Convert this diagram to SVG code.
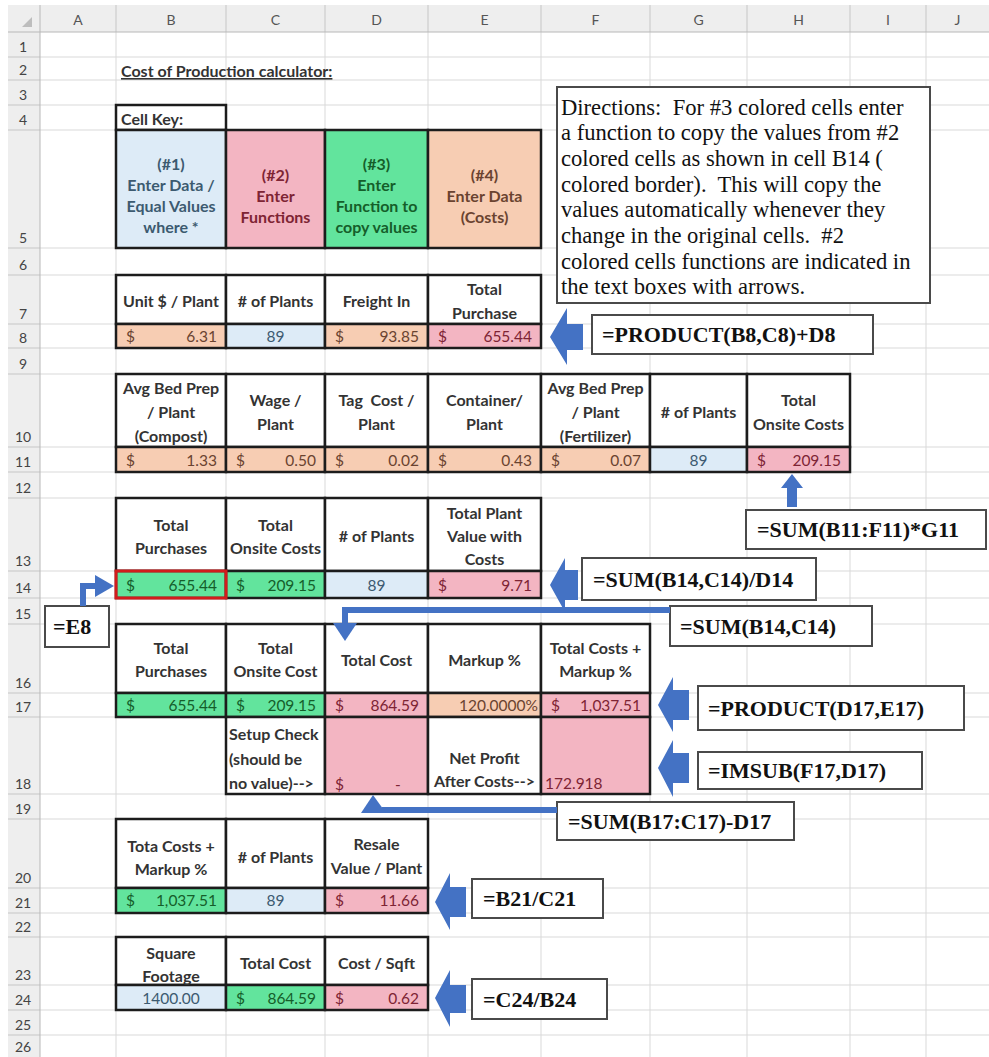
<svg xmlns="http://www.w3.org/2000/svg" width="989" height="1057" viewBox="0 0 989 1057">
<defs><style>
.hb{fill:#eeeeee}
.gl{stroke:#d9d9d9;stroke-width:1}
.hs{stroke:#c6c6c6;stroke-width:1}
.hd{stroke:#b8b8b8;stroke-width:1}
.ch{font-family:Lato,"Liberation Sans",sans-serif;font-size:14px;fill:#555;text-anchor:middle;dominant-baseline:central}
.rn{font-family:Lato,"Liberation Sans",sans-serif;font-size:14px;fill:#444;text-anchor:middle}
.c{stroke:#1c1c1c;stroke-width:2.5}
.w{fill:#fff}.bl{fill:#DDEBF7}.pk{fill:#F3B5C2}.gr{fill:#62E49D}.pc{fill:#F7CDB3}
.h{font-family:Lato,"Liberation Sans",sans-serif;font-weight:700;font-size:16px;fill:#333;text-anchor:middle;dominant-baseline:central}
.t{font-family:Lato,"Liberation Sans",sans-serif;font-weight:700;font-size:16px;fill:#333;text-decoration:underline}
.l{text-anchor:start}
.v{font-family:Lato,"Liberation Sans",sans-serif;font-size:15.5px;dominant-baseline:central}
.r{text-anchor:end}.m{text-anchor:middle}
.tbl{fill:#3c5a70}.tpk{fill:#7e2434}.tgr{fill:#155e2a}.tpc{fill:#6a4330}
.box{fill:#fff;stroke:#4a4a4a;stroke-width:2}
.f{font-family:"Liberation Serif","Times New Roman",serif;font-weight:700;font-size:22px;fill:#111;dominant-baseline:central}
.d{font-family:"Liberation Serif","Times New Roman",serif;font-size:22.6px;fill:#111;dominant-baseline:central}
.a{fill:#4472C4}
.al{fill:none;stroke:#4472C4;stroke-width:6}
</style></defs>
<rect x="0" y="0" width="989" height="1057" fill="#fff"/>
<g id="sheet-grid">
<rect class="hb" x="8" y="5" width="981" height="27"/>
<rect class="hb" x="8" y="32" width="32" height="1025"/>
<polygon points="32,17 32,27 22,27" fill="#bdbdbd"/>
<g class="gl">
<line x1="116" y1="32" x2="116" y2="1057"/><line x1="226" y1="32" x2="226" y2="1057"/><line x1="325" y1="32" x2="325" y2="1057"/><line x1="428" y1="32" x2="428" y2="1057"/><line x1="541" y1="32" x2="541" y2="1057"/><line x1="650" y1="32" x2="650" y2="1057"/><line x1="747" y1="32" x2="747" y2="1057"/><line x1="850" y1="32" x2="850" y2="1057"/><line x1="926" y1="32" x2="926" y2="1057"/>
<line x1="40" y1="57" x2="989" y2="57"/><line x1="40" y1="80" x2="989" y2="80"/><line x1="40" y1="105" x2="989" y2="105"/><line x1="40" y1="130" x2="989" y2="130"/><line x1="40" y1="248" x2="989" y2="248"/><line x1="40" y1="275" x2="989" y2="275"/><line x1="40" y1="324" x2="989" y2="324"/><line x1="40" y1="348" x2="989" y2="348"/><line x1="40" y1="374" x2="989" y2="374"/><line x1="40" y1="447" x2="989" y2="447"/><line x1="40" y1="472" x2="989" y2="472"/><line x1="40" y1="498" x2="989" y2="498"/><line x1="40" y1="571" x2="989" y2="571"/><line x1="40" y1="598" x2="989" y2="598"/><line x1="40" y1="624" x2="989" y2="624"/><line x1="40" y1="693" x2="989" y2="693"/><line x1="40" y1="717" x2="989" y2="717"/><line x1="40" y1="794" x2="989" y2="794"/><line x1="40" y1="819" x2="989" y2="819"/><line x1="40" y1="888" x2="989" y2="888"/><line x1="40" y1="913" x2="989" y2="913"/><line x1="40" y1="937" x2="989" y2="937"/><line x1="40" y1="985" x2="989" y2="985"/><line x1="40" y1="1010" x2="989" y2="1010"/><line x1="40" y1="1035" x2="989" y2="1035"/>
</g>
<g class="hs">
<line x1="116" y1="5" x2="116" y2="32"/><line x1="226" y1="5" x2="226" y2="32"/><line x1="325" y1="5" x2="325" y2="32"/><line x1="428" y1="5" x2="428" y2="32"/><line x1="541" y1="5" x2="541" y2="32"/><line x1="650" y1="5" x2="650" y2="32"/><line x1="747" y1="5" x2="747" y2="32"/><line x1="850" y1="5" x2="850" y2="32"/><line x1="926" y1="5" x2="926" y2="32"/>
<line x1="8" y1="57" x2="40" y2="57"/><line x1="8" y1="80" x2="40" y2="80"/><line x1="8" y1="105" x2="40" y2="105"/><line x1="8" y1="130" x2="40" y2="130"/><line x1="8" y1="248" x2="40" y2="248"/><line x1="8" y1="275" x2="40" y2="275"/><line x1="8" y1="324" x2="40" y2="324"/><line x1="8" y1="348" x2="40" y2="348"/><line x1="8" y1="374" x2="40" y2="374"/><line x1="8" y1="447" x2="40" y2="447"/><line x1="8" y1="472" x2="40" y2="472"/><line x1="8" y1="498" x2="40" y2="498"/><line x1="8" y1="571" x2="40" y2="571"/><line x1="8" y1="598" x2="40" y2="598"/><line x1="8" y1="624" x2="40" y2="624"/><line x1="8" y1="693" x2="40" y2="693"/><line x1="8" y1="717" x2="40" y2="717"/><line x1="8" y1="794" x2="40" y2="794"/><line x1="8" y1="819" x2="40" y2="819"/><line x1="8" y1="888" x2="40" y2="888"/><line x1="8" y1="913" x2="40" y2="913"/><line x1="8" y1="937" x2="40" y2="937"/><line x1="8" y1="985" x2="40" y2="985"/><line x1="8" y1="1010" x2="40" y2="1010"/><line x1="8" y1="1035" x2="40" y2="1035"/>
</g>
<line class="hd" x1="8" y1="32" x2="989" y2="32"/>
<line class="hd" x1="40" y1="5" x2="40" y2="1057"/>
<g class="ch">
<text x="78" y="19">A</text><text x="171" y="19">B</text><text x="275.5" y="19">C</text><text x="376.5" y="19">D</text><text x="484.5" y="19">E</text><text x="595.5" y="19">F</text><text x="698.5" y="19">G</text><text x="798.5" y="19">H</text><text x="888" y="19">I</text><text x="957.5" y="19">J</text>
</g>
<g class="rn">
<text x="23" y="52">1</text><text x="23" y="75">2</text><text x="23" y="100">3</text><text x="23" y="125">4</text><text x="23" y="243">5</text><text x="23" y="270">6</text><text x="23" y="319">7</text><text x="23" y="343">8</text><text x="23" y="369">9</text><text x="23" y="442">10</text><text x="23" y="467">11</text><text x="23" y="493">12</text><text x="23" y="566">13</text><text x="23" y="593">14</text><text x="23" y="619">15</text><text x="23" y="688">16</text><text x="23" y="712">17</text><text x="23" y="789">18</text><text x="23" y="814">19</text><text x="23" y="883">20</text><text x="23" y="908">21</text><text x="23" y="932">22</text><text x="23" y="980">23</text><text x="23" y="1005">24</text><text x="23" y="1030">25</text><text x="23" y="1052">26</text>
</g>
</g>
<g id="title"><text class="t" x="121" y="77">Cost of Production calculator:</text></g>
<g id="cell-key">
<rect class="c w" x="116" y="105" width="110" height="25"/>
<text class="h l" x="121" y="118">Cell Key:</text>
<rect class="c bl" x="116" y="130" width="110" height="118"/>
<rect class="c pk" x="226" y="130" width="99" height="118"/>
<rect class="c gr" x="325" y="130" width="103" height="118"/>
<rect class="c pc" x="428" y="130" width="113" height="118"/>
<g class="h tbl"><text x="171" y="163.5">(#1)</text><text x="171" y="184.5">Enter Data /</text><text x="171" y="205.5">Equal Values</text><text x="171" y="226.5">where *</text></g>
<g class="h tpk"><text x="275.5" y="174">(#2)</text><text x="275.5" y="195">Enter</text><text x="275.5" y="216">Functions</text></g>
<g class="h tgr"><text x="376.5" y="163.5">(#3)</text><text x="376.5" y="184.5">Enter</text><text x="376.5" y="205.5">Function to</text><text x="376.5" y="226.5">copy values</text></g>
<g class="h tpc"><text x="484.5" y="174">(#4)</text><text x="484.5" y="195">Enter Data</text><text x="484.5" y="216">(Costs)</text></g>
</g>
<g id="purchase-table">
<rect class="c w" x="116" y="275" width="110" height="49"/><rect class="c w" x="226" y="275" width="99" height="49"/><rect class="c w" x="325" y="275" width="103" height="49"/><rect class="c w" x="428" y="275" width="113" height="49"/>
<rect class="c pc" x="116" y="324" width="110" height="24"/><rect class="c bl" x="226" y="324" width="99" height="24"/><rect class="c pc" x="325" y="324" width="103" height="24"/><rect class="c pk" x="428" y="324" width="113" height="24"/>
<text class="h" x="171" y="300">Unit $ / Plant</text><text class="h" x="275.5" y="300"># of Plants</text><text class="h" x="376.5" y="300">Freight In</text><text class="h" x="484.5" y="288">Total</text><text class="h" x="484.5" y="312">Purchase</text>
<g class="v tpc"><text class="l" x="126" y="336">$</text><text class="r" x="217" y="336">6.31</text><text class="l" x="335" y="336">$</text><text class="r" x="419" y="336">93.85</text></g>
<text class="v m tbl" x="275.5" y="336">89</text>
<g class="v tpk"><text class="l" x="438" y="336">$</text><text class="r" x="532" y="336">655.44</text></g>
</g>
<g id="onsite-table">
<rect class="c w" x="116" y="374" width="110" height="73"/><rect class="c w" x="226" y="374" width="99" height="73"/><rect class="c w" x="325" y="374" width="103" height="73"/><rect class="c w" x="428" y="374" width="113" height="73"/><rect class="c w" x="541" y="374" width="109" height="73"/><rect class="c w" x="650" y="374" width="97" height="73"/><rect class="c w" x="747" y="374" width="103" height="73"/>
<rect class="c pc" x="116" y="447" width="110" height="25"/><rect class="c pc" x="226" y="447" width="99" height="25"/><rect class="c pc" x="325" y="447" width="103" height="25"/><rect class="c pc" x="428" y="447" width="113" height="25"/><rect class="c pc" x="541" y="447" width="109" height="25"/><rect class="c bl" x="650" y="447" width="97" height="25"/><rect class="c pk" x="747" y="447" width="103" height="25"/>
<g class="h">
<text x="171" y="387">Avg Bed Prep</text><text x="171" y="411">/ Plant</text><text x="171" y="435">(Compost)</text>
<text x="275.5" y="399">Wage /</text><text x="275.5" y="423">Plant</text>
<text x="376.5" y="399" xml:space="preserve">Tag  Cost /</text><text x="376.5" y="423">Plant</text>
<text x="484.5" y="399">Container/</text><text x="484.5" y="423">Plant</text>
<text x="595.5" y="387">Avg Bed Prep</text><text x="595.5" y="411">/ Plant</text><text x="595.5" y="435">(Fertilizer)</text>
<text x="698.5" y="411"># of Plants</text>
<text x="798.5" y="399">Total</text><text x="798.5" y="423">Onsite Costs</text>
</g>
<g class="v tpc"><text class="l" x="126" y="460">$</text><text class="r" x="217" y="460">1.33</text><text class="l" x="236" y="460">$</text><text class="r" x="316" y="460">0.50</text><text class="l" x="335" y="460">$</text><text class="r" x="419" y="460">0.02</text><text class="l" x="438" y="460">$</text><text class="r" x="532" y="460">0.43</text><text class="l" x="551" y="460">$</text><text class="r" x="641" y="460">0.07</text></g>
<text class="v m tbl" x="698.5" y="460">89</text>
<g class="v tpk"><text class="l" x="757" y="460">$</text><text class="r" x="841" y="460">209.15</text></g>
</g>
<g id="plant-value-table">
<rect class="c w" x="116" y="498" width="110" height="73"/><rect class="c w" x="226" y="498" width="99" height="73"/><rect class="c w" x="325" y="498" width="103" height="73"/><rect class="c w" x="428" y="498" width="113" height="73"/>
<rect class="c gr" x="116" y="571" width="110" height="27"/><rect class="c gr" x="226" y="571" width="99" height="27"/><rect class="c bl" x="325" y="571" width="103" height="27"/><rect class="c pk" x="428" y="571" width="113" height="27"/>
<g class="h">
<text x="171" y="524">Total</text><text x="171" y="547">Purchases</text>
<text x="275.5" y="524">Total</text><text x="275.5" y="547">Onsite Costs</text>
<text x="376.5" y="535"># of Plants</text>
<text x="484.5" y="512">Total Plant</text><text x="484.5" y="535">Value with</text><text x="484.5" y="558">Costs</text>
</g>
<g class="v tgr"><text class="l" x="126" y="585">$</text><text class="r" x="217" y="585">655.44</text><text class="l" x="236" y="585">$</text><text class="r" x="316" y="585">209.15</text></g>
<text class="v m tbl" x="376.5" y="585">89</text>
<g class="v tpk"><text class="l" x="438" y="585">$</text><text class="r" x="532" y="585">9.71</text></g>
<rect x="116" y="571" width="110" height="27" fill="none" stroke="#d21c1c" stroke-width="3"/>
</g>
<g id="markup-table">
<rect class="c w" x="116" y="624" width="110" height="69"/><rect class="c w" x="226" y="624" width="99" height="69"/><rect class="c w" x="325" y="624" width="103" height="69"/><rect class="c w" x="428" y="624" width="113" height="69"/><rect class="c w" x="541" y="624" width="109" height="69"/>
<rect class="c gr" x="116" y="693" width="110" height="24"/><rect class="c gr" x="226" y="693" width="99" height="24"/><rect class="c pk" x="325" y="693" width="103" height="24"/><rect class="c pc" x="428" y="693" width="113" height="24"/><rect class="c pk" x="541" y="693" width="109" height="24"/>
<rect class="c w" x="226" y="717" width="99" height="77"/><rect class="c pk" x="325" y="717" width="103" height="77"/><rect class="c w" x="428" y="717" width="113" height="77"/><rect class="c pk" x="541" y="717" width="109" height="77"/>
<g class="h">
<text x="171" y="647">Total</text><text x="171" y="670">Purchases</text>
<text x="275.5" y="647">Total</text><text x="275.5" y="670">Onsite Cost</text>
<text x="376.5" y="659">Total Cost</text>
<text x="484.5" y="659">Markup %</text>
<text x="595.5" y="647">Total Costs +</text><text x="595.5" y="670">Markup %</text>
<text class="l" x="229" y="733">Setup Check</text><text class="l" x="229" y="758">(should be</text><text class="l" x="229" y="782">no value)--&gt;</text>
<text x="484.5" y="757">Net Profit</text><text x="484.5" y="780">After Costs--&gt;</text>
</g>
<g class="v tgr"><text class="l" x="126" y="705">$</text><text class="r" x="217" y="705">655.44</text><text class="l" x="236" y="705">$</text><text class="r" x="316" y="705">209.15</text></g>
<g class="v tpk"><text class="l" x="335" y="705">$</text><text class="r" x="419" y="705">864.59</text><text class="l" x="551" y="705">$</text><text class="r" x="641" y="705">1,037.51</text><text class="l" x="335" y="784">$</text><text class="m" x="398" y="784">-</text><text class="l" x="545" y="783">172.918</text></g>
<text class="v r tpc" x="538" y="705">120.0000%</text>
</g>
<g id="resale-table">
<rect class="c w" x="116" y="819" width="110" height="69"/><rect class="c w" x="226" y="819" width="99" height="69"/><rect class="c w" x="325" y="819" width="103" height="69"/>
<rect class="c gr" x="116" y="888" width="110" height="25"/><rect class="c bl" x="226" y="888" width="99" height="25"/><rect class="c pk" x="325" y="888" width="103" height="25"/>
<g class="h">
<text x="171" y="845">Tota Costs +</text><text x="171" y="868">Markup %</text>
<text x="275.5" y="856"># of Plants</text>
<text x="376.5" y="843">Resale</text><text x="376.5" y="867">Value / Plant</text>
</g>
<g class="v tgr"><text class="l" x="126" y="900">$</text><text class="r" x="217" y="900">1,037.51</text></g>
<text class="v m tbl" x="275.5" y="900">89</text>
<g class="v tpk"><text class="l" x="335" y="900">$</text><text class="r" x="419" y="900">11.66</text></g>
</g>
<g id="sqft-table">
<rect class="c w" x="116" y="937" width="110" height="48"/><rect class="c w" x="226" y="937" width="99" height="48"/><rect class="c w" x="325" y="937" width="103" height="48"/>
<rect class="c bl" x="116" y="985" width="110" height="25"/><rect class="c gr" x="226" y="985" width="99" height="25"/><rect class="c pk" x="325" y="985" width="103" height="25"/>
<g class="h">
<text x="171" y="952">Square</text><text x="171" y="975">Footage</text>
<text x="275.5" y="962">Total Cost</text>
<text x="376.5" y="962">Cost / Sqft</text>
</g>
<text class="v m tbl" x="171" y="998">1400.00</text>
<g class="v tgr"><text class="l" x="236" y="998">$</text><text class="r" x="316" y="998">864.59</text></g>
<g class="v tpk"><text class="l" x="335" y="998">$</text><text class="r" x="419" y="998">0.62</text></g>
</g>
<g id="directions">
<rect class="box" x="557" y="87" width="373" height="216"/>
<g class="d">
<text x="561" y="107" xml:space="preserve">Directions:  For #3 colored cells enter</text>
<text x="561" y="132.7">a function to copy the values from #2</text>
<text x="561" y="158.4">colored cells as shown in cell B14 (</text>
<text x="561" y="184.1" xml:space="preserve">colored border).  This will copy the</text>
<text x="561" y="209.8">values automatically whenever they</text>
<text x="561" y="235.5" xml:space="preserve">change in the original cells.  #2</text>
<text x="561" y="261.2">colored cells functions are indicated in</text>
<text x="561" y="286.9">the text boxes with arrows.</text>
</g>
</g>
<g id="f-total-purchase"><rect class="box" x="592" y="315" width="281" height="39"/><text class="f" x="602" y="334.5">=PRODUCT(B8,C8)+D8</text></g>
<g id="f-onsite"><rect class="box" x="746" y="510" width="240" height="39"/><text class="f" x="757" y="529.5">=SUM(B11:F11)*G11</text></g>
<g id="f-plant-value"><rect class="box" x="582" y="558" width="234" height="42"/><text class="f" x="593" y="579">=SUM(B14,C14)/D14</text></g>
<g id="f-total-cost"><rect class="box" x="670" y="606" width="202" height="40"/><text class="f" x="680" y="626">=SUM(B14,C14)</text></g>
<g id="f-markup"><rect class="box" x="698" y="686" width="266" height="44"/><text class="f" x="708" y="708">=PRODUCT(D17,E17)</text></g>
<g id="f-profit"><rect class="box" x="698" y="752" width="224" height="37"/><text class="f" x="708" y="770.5">=IMSUB(F17,D17)</text></g>
<g id="f-check"><rect class="box" x="557" y="802" width="237" height="38"/><text class="f" x="568" y="821">=SUM(B17:C17)-D17</text></g>
<g id="f-resale"><rect class="box" x="472" y="879" width="131" height="39"/><text class="f" x="483" y="898.5">=B21/C21</text></g>
<g id="f-sqft"><rect class="box" x="472" y="979" width="135" height="40"/><text class="f" x="483" y="999">=C24/B24</text></g>
<g id="f-copy"><rect class="box" x="45" y="606" width="64" height="41"/><text class="f" x="53" y="626">=E8</text></g>
<g id="connectors">
<polygon class="a" points="550,337 567,308 567,324 583,324 583,350 567,350 567,365"/>
<polygon class="a" points="792,474 803,488 797,488 797,507 787,507 787,488 781,488"/>
<polygon class="a" points="550,585 565,558 565,570 578,570 578,600 565,600 565,612"/>
<polyline class="al" points="670,610 345,610 345,625"/>
<polygon class="a" points="345,641 333,623 357,623"/>
<polygon class="a" points="658,705 673,677 673,690 689,690 689,720 673,720 673,732"/>
<polygon class="a" points="658,768 673,740 673,753 689,753 689,783 673,783 673,797"/>
<line class="al" x1="557" y1="810" x2="382" y2="810"/>
<polygon class="a" points="373,795 386,813 361,813"/>
<polygon class="a" points="435,902 450,873 450,887 466,887 466,917 450,917 450,930"/>
<polygon class="a" points="435,998 450,970 450,985 466,985 466,1013 450,1013 450,1027"/>
<polyline class="al" points="83,606 83,586 96,586" stroke-width="8"/>
<polygon class="a" points="114,586 95,575 95,597"/>
</g>
</svg>
